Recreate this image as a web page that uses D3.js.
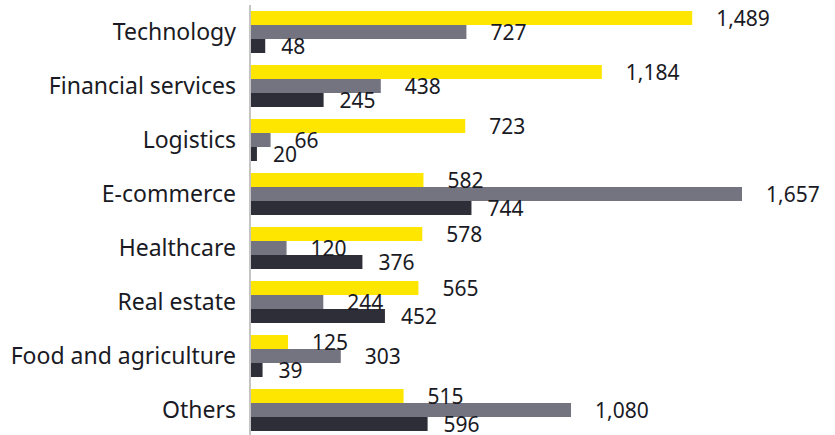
<!DOCTYPE html>
<html>
<head>
<meta charset="utf-8">
<script src="https://cdn.jsdelivr.net/npm/d3@7"></script>
<style>
  body { margin: 0; background: #fff; }
  text { font-family: "Noto Sans", sans-serif; fill: #1a1a24; }
</style>
</head>
<body>
<svg id="chart"></svg>
<script>
var categories = ["Technology", "Financial services", "Logistics", "E-commerce",
  "Healthcare", "Real estate", "Food and agriculture", "Others"];
var seriesNames = ["s1", "s2", "s3"];
var s1 = [1489, 1184, 723, 582, 578, 565, 125, 515];
var s2 = [727, 438, 66, 1657, 120, 244, 303, 1080];
var s3 = [48, 245, 20, 744, 376, 452, 39, 596];
var colors = ["#ffe600", "#747480", "#2e2e38"];
var labelGap = [24, 24, 16];

var width = 835, height = 435;
var margin = {top: 5, right: 0, bottom: 0, left: 251};

var svg = d3.select("#chart")
  .attr("width", width)
  .attr("height", height);

var x = d3.scaleLinear()
  .domain([0, 1657])
  .range([margin.left, 742]);

var y = d3.scaleBand()
  .domain(categories)
  .range([margin.top, 437])
  .paddingInner(12 / 54)
  .paddingOuter(6 / 54);

var y1 = d3.scaleBand()
  .domain(seriesNames)
  .range([0, y.bandwidth()]);

var rows = categories.map(function(c, i) {
  return {cat: c, vals: [s1[i], s2[i], s3[i]]};
});

var groups = svg.append("g")
  .selectAll("g")
  .data(rows)
  .enter().append("g")
    .attr("transform", function(d) { return "translate(0," + y(d.cat) + ")"; });

groups.selectAll("rect")
  .data(function(d) { return d.vals; })
  .enter().append("rect")
    .attr("x", x(0))
    .attr("y", function(d, i) { return y1(seriesNames[i]); })
    .attr("width", function(d) { return x(d) - x(0); })
    .attr("height", y1.bandwidth())
    .attr("fill", function(d, i) { return colors[i]; });

groups.selectAll("text")
  .data(function(d) { return d.vals; })
  .enter().append("text")
    .attr("x", function(d, i) { return x(d) + labelGap[i]; })
    .attr("y", function(d, i) { return y1(seriesNames[i]) + y1.bandwidth() / 2; })
    .attr("dy", "0.36em")
    .style("font-size", "21px")
    .text(function(d) { return d3.format(",")(d); });

// category axis
var yAxis = d3.axisLeft(y).tickSize(0).tickPadding(14);
var ax = svg.append("g")
  .attr("transform", "translate(" + (margin.left - 1) + ",0)")
  .call(yAxis);
ax.select(".domain")
  .attr("stroke", "#b0b0b0")
  .attr("stroke-width", 1.5)
  .attr("d", "M0,5V435");
ax.selectAll("text")
  .style("font-size", "23px")
  .attr("dy", "0.34em")
  .attr("fill", "#1a1a24");
</script>
</body>
</html>
